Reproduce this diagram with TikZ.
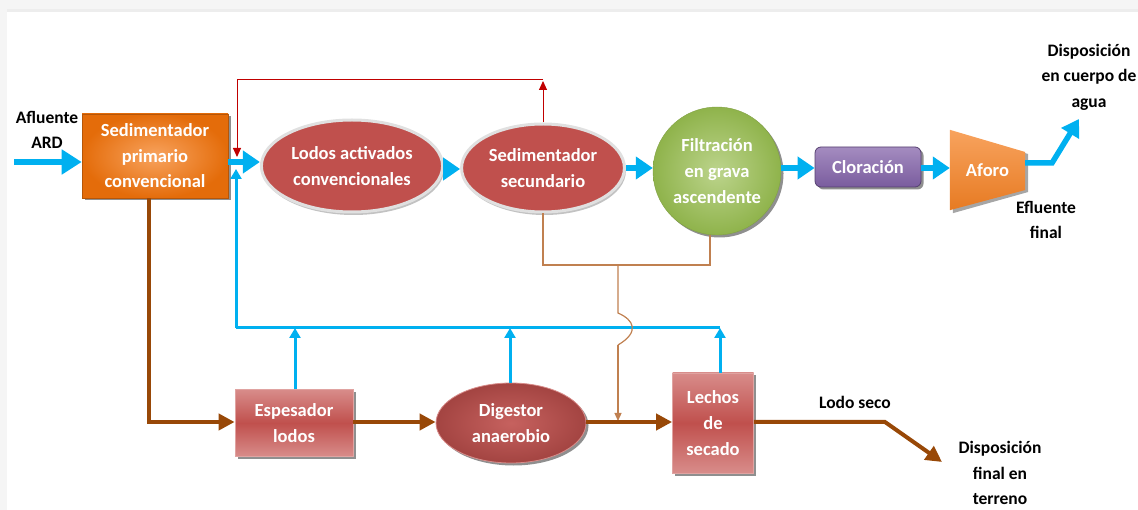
\documentclass[tikz,border=0pt]{standalone}
\usepackage{fontspec}
\setmainfont{Carlito}
\usetikzlibrary{arrows.meta,shapes.geometric,shadows,calc}
\definecolor{cblue}{HTML}{00B0F0}
\definecolor{cbrown}{HTML}{984807}
\definecolor{ctan}{HTML}{C08050}
\definecolor{cred}{HTML}{C00000}
\definecolor{corange}{HTML}{E46C0A}
\definecolor{corangel}{HTML}{F8A35E}
\definecolor{rbox}{HTML}{C0504D}
\definecolor{rboxl}{HTML}{D88C8A}
\definecolor{cgreen}{HTML}{8FB34B}
\definecolor{cgreenl}{HTML}{BCD48C}
\definecolor{cpurple}{HTML}{7A5C9E}
\definecolor{cpurplel}{HTML}{A48CC0}
\tikzset{
  wtxt/.style={text=white,font=\bfseries\fontsize{18.5}{26}\selectfont,align=center},
  btxt/.style={text=black,font=\bfseries\fontsize{17.5}{25.5}\selectfont,align=center},
  shad/.style={drop shadow={shadow xshift=2.5pt,shadow yshift=-2.5pt,fill=black!55,opacity=0.8}},
  redrect/.style={wtxt,shad,draw=rboxl!80!white,line width=0.8pt,top color=rboxl,bottom color=rboxl,middle color=rbox},
  redell/.style={wtxt,ellipse,fill=rbox,draw=white!88!black,line width=3pt,
     drop shadow={shadow xshift=1.5pt,shadow yshift=-3pt,fill=black!40,opacity=0.6}},
  bigarrow/.style={cblue,line width=5.5pt,-{Triangle[length=20pt,width=24pt]}},
  midarrow/.style={cblue,line width=5.5pt,-{Triangle[length=17pt,width=22pt]}},
  recarrow/.style={cblue,line width=3pt,-{Triangle[length=10pt,width=11pt]}},
  recline/.style={cblue,line width=3pt},
  brownarrow/.style={cbrown,line width=4pt,-{Triangle[length=16pt,width=16pt]}},
  tanline/.style={ctan,line width=1.2pt},
  redline/.style={cred,line width=1pt},
}
\begin{document}
\begin{tikzpicture}[x=1pt,y=-1pt]
\useasboundingbox (0,0) rectangle (1138,510);
% screenshot frame
\fill[gray!8] (0,0) rectangle (1138,12);
\fill[gray!14] (7,9) rectangle (1138,12);
\fill[gray!8] (0,0) rectangle (7,510);

% ---- nodes ----
\node[wtxt,shad,draw=corange!80!black,line width=0.6pt,inner color=corangel,outer color=corange,
      minimum width=146pt,minimum height=84pt,text depth=0pt] (sp) at (155,156)
      {Sedimentador\\primario\\[-1pt]convencional};
\node[redell,minimum width=174pt,minimum height=92pt] (la) at (352,166)
      {Lodos activados\\convencionales};
\node[redell,minimum width=152pt,minimum height=88pt] (ss) at (543,168)
      {Sedimentador\\secundario};
\node[wtxt,circle,inner color=cgreenl,outer color=cgreen,draw=cgreen!90!black,line width=0.4pt,
      minimum size=128pt,shad] (fg) at (717,171)
      {Filtración\\en grava\\ascendente};
\node[wtxt,rounded corners=6pt,top color=cpurplel,bottom color=cpurple,draw=cpurple!70!black,line width=0.8pt,
      minimum width=106pt,minimum height=40pt,shad] (cl) at (868,167) {Cloración};
% Aforo trapezoid
\node[minimum width=75pt,minimum height=80pt,inner sep=0pt] (af) at (987.5,170) {};
\fill[black!50,opacity=0.7] ($(af.north west)+(3,3)$) -- ($(af.east)+(3,-16)$) -- ($(af.east)+(3,22)$) -- ($(af.south west)+(3,3)$) -- cycle;
\shade[top color=corangel,bottom color=corange!90!white] (af.north west) -- ($(af.east)+(0,-18)$) -- ($(af.east)+(0,20)$) -- (af.south west) -- cycle;
\node[wtxt] (aft) at (af.center) {Aforo};

\node[redrect,minimum width=118pt,minimum height=67pt] (es) at (294,423) {Espesador\\lodos};
\node[wtxt,ellipse,shad,inner color=rbox!90!white,outer color=rbox!85!black,draw=rboxl,line width=0.8pt,
      minimum width=150pt,minimum height=80pt] (dg) at (511,423) {Digestor\\anaerobio};
\node[redrect,minimum width=81pt,minimum height=100pt] (lc) at (713,423) {Lechos\\de\\secado};

% labels
\node[btxt] (afl) at (47,130) {Afluente\\ARD};
\node[btxt] (dca) at (1089,77) {Disposición\\en cuerpo de\\agua};
\node[btxt] (efl) at (1046,220) {Efluente\\final};
\node[btxt] (lse) at (855,402) {Lodo seco};
\node[btxt] (dft) at (1000,473) {Disposición\\final en\\terreno};

% ---- blue main flow ----
\coordinate (in0) at (14,162);
\draw[bigarrow] (in0) -- (sp.west |- in0);
\draw[midarrow] (sp.east |- 0,162) -- (la.west |- 0,162);
\draw[midarrow] (la.east |- 0,169) -- (ss.west |- 0,169);
\draw[midarrow] (ss.east |- 0,168) -- (fg.west |- 0,168);
\draw[midarrow] (fg.east |- 0,168) -- (cl.west |- 0,168);
\draw[midarrow] (cl.east |- 0,168) -- (af.west |- 0,168);
\coordinate (out1) at (1052,163);
\coordinate (out2) at (1079,119);
\draw[cblue,line width=5.5pt,-{Triangle[length=17pt,width=20pt]}] ($(af.east)+(0,-7)$) -- (out1) -- (out2);

% ---- red return ----
\coordinate (rt1) at (543,80);
\coordinate (rt2) at (237,80);
\coordinate (rt3) at (237,157);
\draw[redline,-{Triangle[length=9pt,width=8pt]}] (ss.north) -- ($(rt1)+(0,1)$);
\draw[redline,-{Triangle[length=9pt,width=8pt]}] (rt1) -- (rt2) -- (rt3);

% ---- blue recirculation ----
\coordinate (bl1) at (720,328);
\coordinate (bl2) at (236,328);
\coordinate (bl3) at (236,169);
\draw[recline] (bl1) -- (bl2);
\draw[recarrow] (bl2) -- (bl3);
\draw[recarrow] (es.north -| 295,0) -- (295,328);
\draw[recarrow] (dg.north -| 510,0) -- (510,328);
\draw[recarrow] (lc.north -| 720,0) -- (720,328);

% ---- tan sludge lines ----
\coordinate (t1) at (543,265);
\coordinate (t2) at (710,265);
\coordinate (t3) at (618,265);
\coordinate (t4) at (618,313);
\coordinate (t5) at (618,345);
\coordinate (t6) at (618,421);
\draw[tanline] (ss.south) -- (t1) -- (t2) -- (fg.south -| t2);
\draw[tanline] (t3) -- (t4) .. controls (634,320) and (640,332) .. (t5);
\draw[tanline,-{Triangle[length=8pt,width=7pt]}] (t5) -- (t6);

% ---- brown sludge flow ----
\coordinate (b1) at (149,422);
\draw[brownarrow] (sp.south -| b1) -- (b1) -- (es.west |- b1);
\draw[brownarrow] (es.east |- 0,422) -- (dg.west |- 0,422);
\draw[brownarrow] (dg.east |- 0,422) -- (lc.west |- 0,422);
\coordinate (b2) at (885,422);
\coordinate (b3) at (942,462);
\draw[brownarrow] (lc.east |- 0,422) -- (b2) -- (b3);
\end{tikzpicture}
\end{document}
